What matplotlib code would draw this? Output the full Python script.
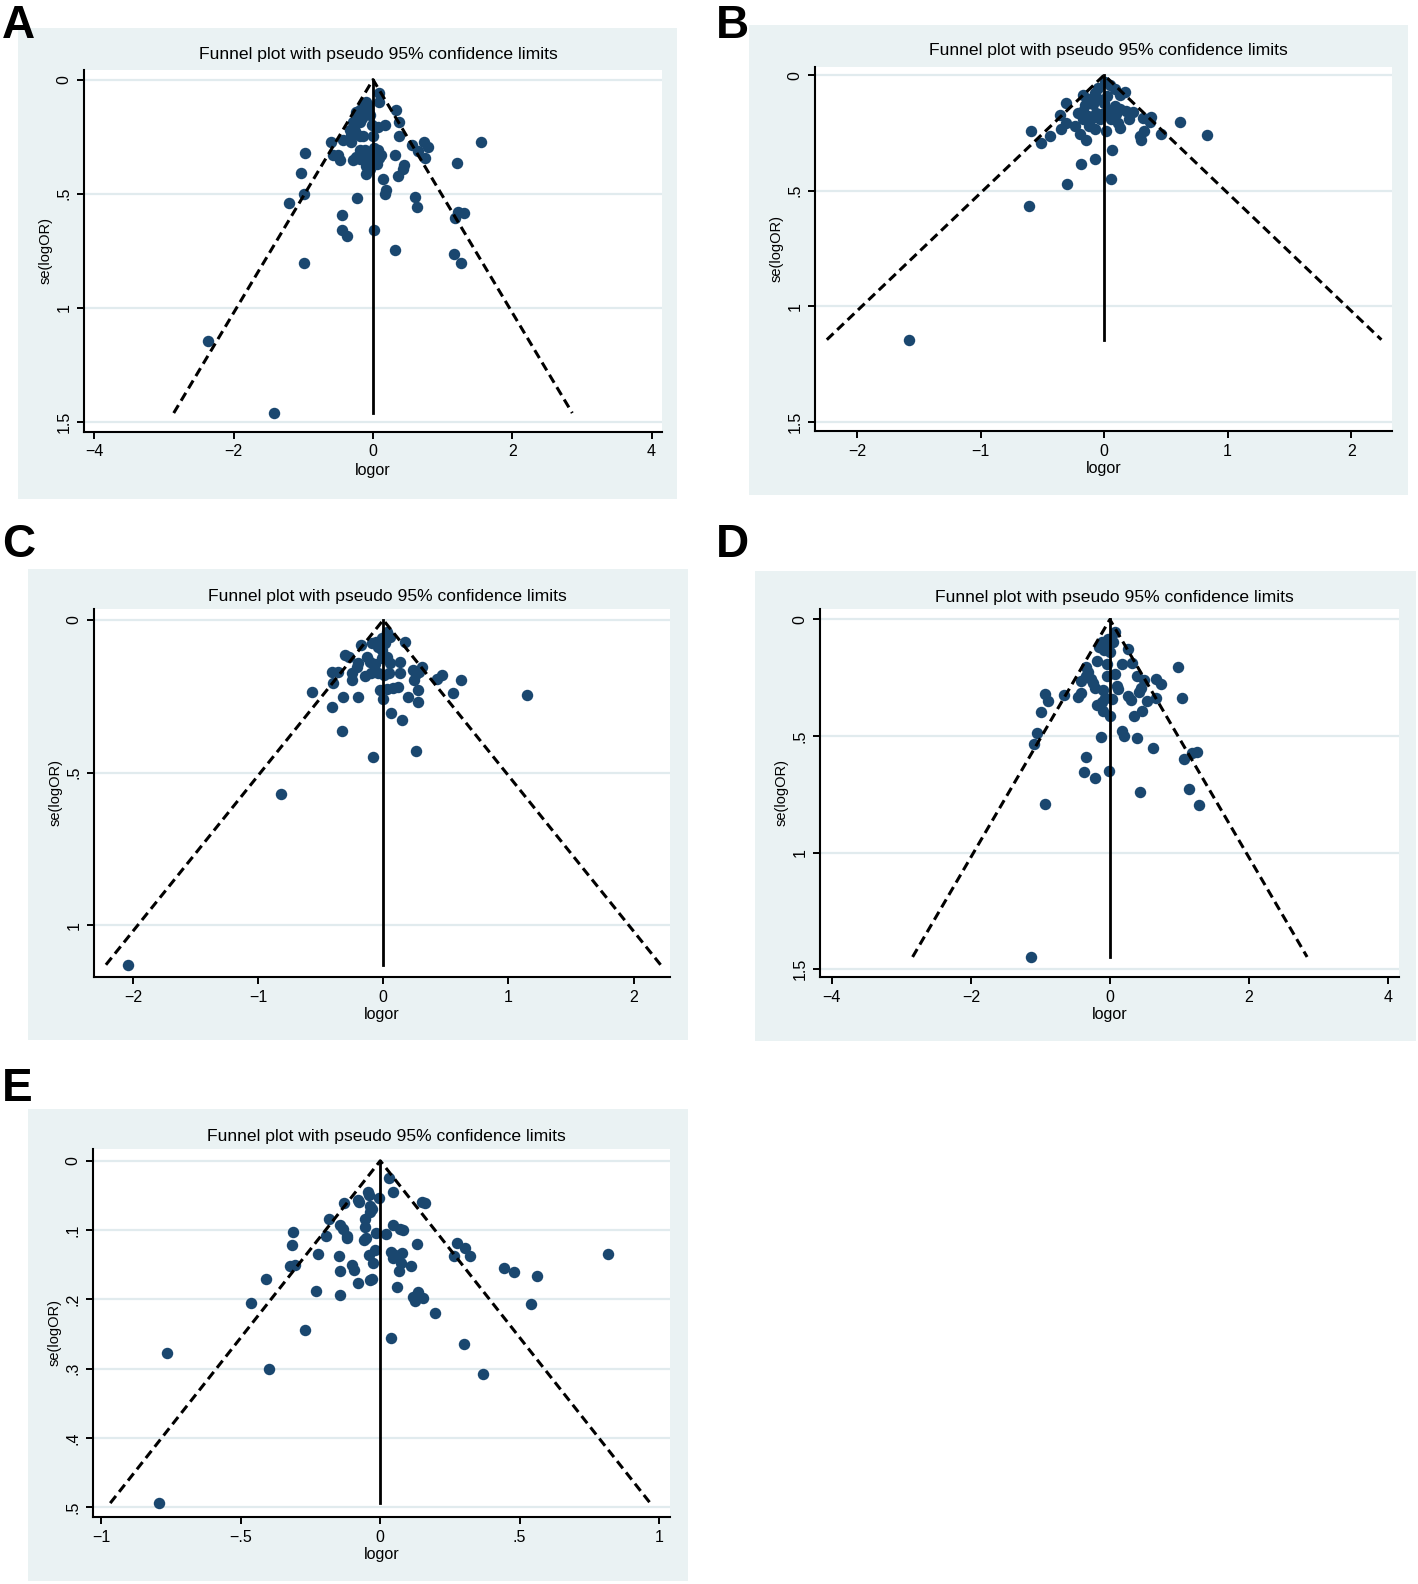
import matplotlib
matplotlib.use('Agg')
import matplotlib.pyplot as plt
from matplotlib.patches import Rectangle

W, H, DPI = 1418, 1584, 100

# ---------------- data ----------------
a_logor = [0.09, 0.09, -0.10, -0.14, -0.07, -0.12, -0.19, -0.07, -0.05, 0.33, -0.24,
           -0.29, -0.18, 0.37, 0.17, 0.07, -0.33, -0.26, -0.31, -0.19, -0.14, 0.0, 0.38,
           -0.43, -0.31, -0.61, 0.565, 0.73, 0.79, 1.545,
           -0.98, -0.57, -0.50, -0.47, -0.25, -0.19, -0.12, -0.07, -0.29, -0.18, -0.08,
           0.07, 0.12, 0.06, -0.02, -0.10, 0.31, 0.65, 0.75, 1.21, 0.45, 0.43, 0.36,
           -0.10, -1.04, 0.15, 0.19, 0.17, -0.99, -0.23, -1.20, 0.61, 0.63, -0.445,
           1.22, 1.31, 1.18, -0.445, -0.37, 0.014, 0.31, 1.16, 1.26, -0.99, -2.37, -1.42,
           -0.03, 0.03, 0.08, -0.05, 0.02, -0.16, -0.02]
a_se = [0.058, 0.10, 0.097, 0.112, 0.112, 0.126, 0.133, 0.14, 0.155, 0.133, 0.14,
        0.184, 0.187, 0.187, 0.199, 0.209, 0.22, 0.225, 0.242, 0.245, 0.249, 0.245, 0.245,
        0.264, 0.275, 0.275, 0.286, 0.275, 0.293, 0.275,
        0.322, 0.329, 0.332, 0.351, 0.339, 0.31, 0.31, 0.322, 0.351, 0.348, 0.339,
        0.307, 0.329, 0.368, 0.362, 0.38, 0.332, 0.312, 0.343, 0.365, 0.372, 0.391, 0.42,
        0.412, 0.409, 0.435, 0.484, 0.499, 0.50, 0.517, 0.539, 0.514, 0.557, 0.593,
        0.58, 0.583, 0.604, 0.66, 0.684, 0.658, 0.746, 0.764, 0.803, 0.803, 1.146, 1.46,
        0.33, 0.35, 0.345, 0.39, 0.30, 0.17, 0.20]
a_theta = 0.0

b_logor = [0.167, 0.127, 0.086, 0.046, 0.005, -0.049, -0.076, -0.17, -0.124, -0.049, -0.089,
           -0.305, -0.157, -0.21, -0.17, -0.13, -0.062, -0.035, -0.103, -0.17, -0.359, 0.086,
           0.127, 0.18, 0.235, 0.054, 0.113, 0.127, -0.305, -0.351, -0.237, -0.197, -0.143,
           -0.076, 0.019, 0.316, 0.383, 0.375, 0.324, 0.289, 0.297, 0.464, 0.615, 0.834,
           -0.588, -0.44, -0.507, 0.067, -0.07, -0.19, 0.059, -0.30, -0.61, -1.58,
           0.0, 0.03, -0.02, 0.02, -0.12, 0.10, 0.20]
b_se = [0.073, 0.087, 0.061, 0.044, 0.032, 0.054, 0.076, 0.087, 0.105, 0.102, 0.126,
        0.119, 0.131, 0.163, 0.156, 0.177, 0.163, 0.192, 0.192, 0.192, 0.173, 0.134,
        0.145, 0.156, 0.16, 0.192, 0.206, 0.228, 0.206, 0.233, 0.221, 0.257, 0.279,
        0.235, 0.243, 0.185, 0.182, 0.203, 0.243, 0.265, 0.279, 0.254, 0.202, 0.259,
        0.243, 0.265, 0.294, 0.323, 0.363, 0.385, 0.449, 0.472, 0.567, 1.145,
        0.12, 0.15, 0.17, 0.09, 0.22, 0.17, 0.19]
b_theta = 0.0

c_logor = [0.027, 0.053, -0.013, -0.059, -0.093, 0.013, -0.04, -0.013, -0.181, 0.173,
           -0.306, -0.271, -0.133, -0.106, -0.067, -0.013, 0.027, 0.053, -0.20, -0.213,
           0.133, 0.306, 0.24, 0.258, 0.285, -0.413, -0.365, -0.253, -0.146, -0.098,
           -0.04, 0.008, 0.045, 0.133, 0.426, 0.466, 0.618, -0.253, 0.248, -0.40,
           -0.572, -0.319, -0.205, -0.027, 0.027, 0.08, 0.12, 0.279, 0.554, 1.145,
           -0.413, 0.0, 0.20, 0.274, 0.061, 0.146, -0.333, 0.258, -0.085, -0.82, -2.04]
c_se = [0.038, 0.055, 0.06, 0.071, 0.077, 0.077, 0.087, 0.098, 0.082, 0.073,
        0.115, 0.12, 0.12, 0.137, 0.144, 0.126, 0.12, 0.14, 0.142, 0.155,
        0.137, 0.153, 0.164, 0.177, 0.169, 0.169, 0.169, 0.175, 0.183, 0.175,
        0.173, 0.18, 0.173, 0.175, 0.193, 0.18, 0.197, 0.197, 0.197, 0.205,
        0.235, 0.251, 0.254, 0.23, 0.227, 0.224, 0.221, 0.23, 0.24, 0.246,
        0.284, 0.26, 0.254, 0.268, 0.306, 0.328, 0.363, 0.43, 0.45, 0.57, 1.13]
c_theta = 0.0

d_logor = [0.072, 0.048, -0.024, -0.12, -0.153, -0.086, 0.0, -0.048, 0.254, -0.182,
           0.182, 0.321, -0.038, -0.336, -0.312, -0.345, -0.278, -0.408, -0.249, -0.216,
           0.072, -0.048, 0.974, 0.393, 0.494, 0.657, 0.734, 0.106, 0.12, 0.441,
           0.422, -0.935, -0.887, -0.662, -0.456, -0.408, -0.096, -0.072, -0.12, 0.034,
           -0.192, 0.254, 0.302, 0.528, 0.662, 1.031, -0.988, -0.096, 0.0, 0.35,
           0.456, -1.046, -1.089, -0.134, 0.177, 0.206, 0.393, 0.624, -0.345, 1.065,
           1.175, 1.261, -0.374, -0.211, -0.01, 0.432, 1.137, 1.28, -0.935, -1.14]
d_se = [0.053, 0.097, 0.085, 0.097, 0.118, 0.133, 0.14, 0.111, 0.128, 0.176,
        0.19, 0.186, 0.19, 0.205, 0.226, 0.241, 0.255, 0.262, 0.272, 0.295,
        0.233, 0.241, 0.206, 0.241, 0.259, 0.255, 0.278, 0.284, 0.298, 0.295,
        0.313, 0.32, 0.349, 0.324, 0.334, 0.316, 0.301, 0.339, 0.353, 0.342,
        0.366, 0.33, 0.344, 0.349, 0.339, 0.339, 0.399, 0.392, 0.414, 0.416,
        0.392, 0.488, 0.533, 0.503, 0.478, 0.50, 0.507, 0.55, 0.589, 0.597,
        0.575, 0.569, 0.654, 0.68, 0.651, 0.741, 0.726, 0.798, 0.793, 1.448]
d_theta = 0.0

e_logor = [0.031, 0.044, -0.005, -0.043, -0.040, -0.078, -0.075, -0.130, -0.035, -0.030,
           -0.037, 0.148, 0.160, -0.184, -0.055, -0.055, -0.145, -0.133, -0.121, -0.121,
           0.047, 0.070, 0.083, -0.016, 0.020, -0.312, -0.193, -0.059, -0.050, -0.315,
           -0.222, -0.147, -0.019, -0.040, -0.025, 0.040, 0.053, 0.079, 0.047, 0.133,
           -0.322, -0.306, -0.103, -0.094, 0.074, 0.068, 0.112, -0.145, -0.411, -0.079,
           -0.037, -0.030, 0.059, -0.231, -0.145, 0.118, 0.136, 0.154, 0.124, -0.462,
           0.196, -0.269, 0.037, 0.276, 0.304, 0.264, 0.322, 0.444, 0.480, 0.561,
           0.817, 0.542, 0.301, 0.369, -0.764, -0.793, -0.398]
e_se = [0.025, 0.045, 0.053, 0.045, 0.050, 0.056, 0.060, 0.061, 0.065, 0.069,
        0.074, 0.060, 0.061, 0.084, 0.084, 0.096, 0.093, 0.098, 0.108, 0.112,
        0.093, 0.098, 0.100, 0.104, 0.105, 0.103, 0.109, 0.114, 0.112, 0.122,
        0.134, 0.137, 0.129, 0.136, 0.148, 0.131, 0.136, 0.133, 0.141, 0.120,
        0.152, 0.151, 0.151, 0.157, 0.148, 0.159, 0.152, 0.159, 0.170, 0.176,
        0.172, 0.171, 0.182, 0.188, 0.193, 0.196, 0.189, 0.198, 0.202, 0.205,
        0.219, 0.244, 0.256, 0.119, 0.126, 0.138, 0.137, 0.154, 0.161, 0.166,
        0.134, 0.206, 0.264, 0.308, 0.278, 0.494, 0.301]
e_theta = 0.0

ticks_x_wide = [-4, -2, 0, 2, 4]
labels_x_wide = ['\u22124', '\u22122', '0', '2', '4']
ticks_x_mid = [-2, -1, 0, 1, 2]
labels_x_mid = ['\u22122', '\u22121', '0', '1', '2']
ticks_x_narrow = [-1, -0.5, 0, 0.5, 1]
labels_x_narrow = ['\u22121', '\u2212.5', '0', '.5', '1']
ticks_y_15 = [0, 0.5, 1, 1.5]
labels_y_15 = ['0', '.5', '1', '1.5']
ticks_y_1 = [0, 0.5, 1]
labels_y_1 = ['0', '.5', '1']
ticks_y_05 = [0, 0.1, 0.2, 0.3, 0.4, 0.5]
labels_y_05 = ['0', '.1', '.2', '.3', '.4', '.5']

TITLE = "Funnel plot with pseudo 95% confidence limits"
XLABEL = "logor"
YLABEL = "se(logOR)"

# ---------------- styling ----------------
plt.rcParams['font.family'] = ['Liberation Sans', 'DejaVu Sans']
NAVY = '#1a476f'
BG = '#eaf2f3'
GRID = '#e1ebee'

fig = plt.figure(figsize=(W / DPI, H / DPI), dpi=DPI)
fig.patch.set_facecolor('white')


def rect(x0, y0, x1, y1):
    return [x0 / W, 1 - y1 / H, (x1 - x0) / W, (y1 - y0) / H]


panels = [
    dict(letter='A', lx=2, ly=38.5, box=(18, 28, 677, 499), ax=(84, 70, 662, 432),
         xlim=(-4.15, 4.15), ylim=(1.543, -0.042), xt=ticks_x_wide, xtl=labels_x_wide,
         yt=ticks_y_15, ytl=labels_y_15, ty=54.5, x=a_logor, y=a_se, theta=a_theta),
    dict(letter='B', lx=716, ly=38.5, box=(749, 25, 1408, 495), ax=(815, 67, 1392, 431),
         xlim=(-2.34, 2.33), ylim=(1.54, -0.035), xt=ticks_x_mid, xtl=labels_x_mid,
         yt=ticks_y_15, ytl=labels_y_15, ty=50.5, x=b_logor, y=b_se, theta=b_theta),
    dict(letter='C', lx=2, ly=557, box=(28, 569, 688, 1040), ax=(94, 609, 670, 977),
         xlim=(-2.31, 2.29), ylim=(1.17, -0.036), xt=ticks_x_mid, xtl=labels_x_mid,
         yt=ticks_y_1, ytl=labels_y_1, ty=596, x=c_logor, y=c_se, theta=c_theta),
    dict(letter='D', lx=716, ly=557, box=(755, 571, 1416, 1041), ax=(820, 609, 1399, 977),
         xlim=(-4.17, 4.16), ylim=(1.534, -0.045), xt=ticks_x_wide, xtl=labels_x_wide,
         yt=ticks_y_15, ytl=labels_y_15, ty=597, x=d_logor, y=d_se, theta=d_theta),
    dict(letter='E', lx=2, ly=1101, box=(28, 1109, 688, 1581), ax=(93, 1149, 670, 1517),
         xlim=(-1.03, 1.039), ylim=(0.514, -0.017), xt=ticks_x_narrow, xtl=labels_x_narrow,
         yt=ticks_y_05, ytl=labels_y_05, ty=1136, x=e_logor, y=e_se, theta=e_theta),
]

for p in panels:
    bx0, by0, bx1, by1 = p['box']
    fig.add_artist(Rectangle((bx0 / W, 1 - by1 / H), (bx1 - bx0) / W, (by1 - by0) / H,
                             transform=fig.transFigure, facecolor=BG, edgecolor='none',
                             zorder=0))
    ax = fig.add_axes(rect(*p['ax']))
    ax.set_zorder(2)
    ax.set_facecolor('white')
    ax.scatter(p['x'], p['y'], s=68, color=NAVY, linewidths=0, zorder=3, clip_on=False)
    se_max = max(p['y'])
    th = p['theta']
    ax.plot([th - 1.96 * se_max, th, th + 1.96 * se_max], [se_max, 0, se_max],
            color='black', lw=2.2, dashes=(3.0, 1.7), zorder=4, solid_capstyle='butt')
    ax.plot([th, th], [0, se_max], color='black', lw=2.0, zorder=4)
    ax.set_xlim(*p['xlim'])
    ax.set_ylim(*p['ylim'])
    ax.set_xticks(p['xt'])
    ax.set_xticklabels(p['xtl'])
    ax.set_yticks(p['yt'])
    ax.set_yticklabels(p['ytl'], rotation=90, va='center')
    ax.yaxis.grid(True, color=GRID, lw=1.6, zorder=0)
    ax.set_axisbelow(True)
    for s in ('top', 'right'):
        ax.spines[s].set_visible(False)
    for s in ('left', 'bottom'):
        ax.spines[s].set_linewidth(1.5)
    ax.tick_params(axis='both', length=5, width=1.4, labelsize=11.5, pad=4)

    ax0, ay0, ax1, ay1 = p['ax']
    cx = (ax0 + ax1) / 2
    fig.text((cx + 5) / W, 1 - p['ty'] / H, TITLE, ha='center', va='center', fontsize=12.6)
    fig.text(cx / W, 1 - (ay1 + 38) / H, XLABEL, ha='center', va='center', fontsize=11.5)
    fig.text((ax0 - 38.5) / W, 1 - ((ay0 + ay1) / 2) / H, YLABEL, ha='center', va='center',
             rotation=90, fontsize=10.5)
    fig.text(p['lx'] / W, 1 - p['ly'] / H, p['letter'], ha='left', va='baseline',
             fontsize=33, fontweight='bold')

fig.savefig('out.png', dpi=DPI, facecolor='white')
